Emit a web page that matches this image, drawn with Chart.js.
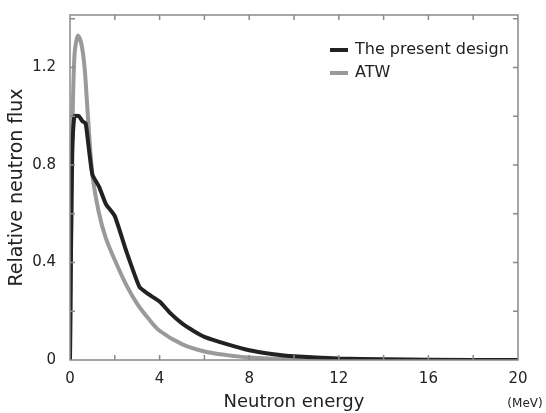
<!DOCTYPE html>
<html>
<head>
<meta charset="utf-8">
<script src="https://cdn.jsdelivr.net/npm/chart.js@4/dist/chart.umd.min.js"></script>
<style>
  html, body { margin: 0; padding: 0; background: #fff; }
  #wrap { position: relative; width: 546px; height: 413px; }
</style>
</head>
<body>
<div id="wrap"><canvas id="chart" width="546" height="413"></canvas></div>
<script>
// energy (MeV) and relative flux
const presentX = [0, 0.05, 0.1, 0.2, 0.4, 0.55, 0.7, 0.85, 1.0, 1.3, 1.6, 2.0, 2.5, 3.1, 3.5, 4.0, 4.5, 5.0, 5.5, 6.0, 7.0, 8.0, 9.0, 10.0, 12.0, 14.0, 16.0, 20.0];
const presentY = [0, 0.5, 0.85, 1.0, 1.0, 0.98, 0.97, 0.86, 0.76, 0.71, 0.64, 0.59, 0.45, 0.30, 0.27, 0.24, 0.19, 0.15, 0.12, 0.095, 0.065, 0.04, 0.025, 0.015, 0.006, 0.003, 0.001, 0];

const atwX = [0, 0.1, 0.2, 0.35, 0.5, 0.65, 0.8, 1.0, 1.3, 1.6, 2.0, 2.5, 3.0, 3.5, 4.0, 5.0, 6.0, 7.0, 8.0, 10.0, 12.0, 20.0];
const atwY = [0, 0.9, 1.25, 1.33, 1.3, 1.2, 1.0, 0.76, 0.6, 0.5, 0.41, 0.31, 0.23, 0.17, 0.12, 0.065, 0.035, 0.02, 0.01, 0.003, 0.001, 0];

const xTickLabels = [0, 4, 8, 12, 16, 20];
const yTickLabels = [0, 0.4, 0.8, 1.2];
const seriesNames = ['The present design', 'ATW'];

const toPoints = (xs, ys) => xs.map((x, i) => ({ x: x, y: ys[i] }));

const FONT = 'DejaVu Sans, Verdana, sans-serif';

// box + inward tick marks on all four sides, legend and unit
const frame = {
  id: 'frame',
  afterDatasetsDraw(chart) {
    const { ctx, chartArea: a, scales } = chart;
    ctx.save();
    ctx.strokeStyle = '#8a8a8a';
    ctx.lineWidth = 1.5;
    ctx.strokeRect(a.left, a.top, a.right - a.left, a.bottom - a.top);
    ctx.beginPath();
    for (let v = 2; v < 20; v += 2) {
      const px = scales.x.getPixelForValue(v);
      ctx.moveTo(px, a.bottom); ctx.lineTo(px, a.bottom - 5);
      ctx.moveTo(px, a.top); ctx.lineTo(px, a.top + 5);
    }
    for (let v = 0.2; v < 1.41; v += 0.2) {
      const py = scales.y.getPixelForValue(v);
      ctx.moveTo(a.left, py); ctx.lineTo(a.left + 5, py);
      ctx.moveTo(a.right, py); ctx.lineTo(a.right - 5, py);
    }
    ctx.stroke();

    // legend
    const colors = ['#222222', '#9a9a9a'];
    ctx.font = '16px ' + FONT;
    ctx.textBaseline = 'middle';
    seriesNames.forEach((name, i) => {
      const y = 50 + i * 23;
      ctx.strokeStyle = colors[i];
      ctx.lineWidth = 4;
      ctx.beginPath();
      ctx.moveTo(330, y); ctx.lineTo(348, y);
      ctx.stroke();
      ctx.fillStyle = '#222';
      ctx.fillText(name, 355, y);
    });

    // unit label
    ctx.font = '12px ' + FONT;
    ctx.fillStyle = '#222';
    ctx.textAlign = 'center';
    ctx.fillText('(MeV)', 525, 404);
    ctx.restore();
  }
};

new Chart(document.getElementById('chart'), {
  type: 'scatter',
  data: {
    datasets: [
      {
        label: seriesNames[0],
        data: toPoints(presentX, presentY),
        showLine: true,
        borderColor: '#222222',
        borderWidth: 4,
        pointRadius: 0,
        tension: 0.15,
        order: 0
      },
      {
        label: seriesNames[1],
        data: toPoints(atwX, atwY),
        showLine: true,
        borderColor: '#9a9a9a',
        borderWidth: 4,
        pointRadius: 0,
        tension: 0.3,
        order: 1
      }
    ]
  },
  options: {
    responsive: false,
    animation: false,
    layout: { padding: { top: 9, right: 28, left: 0, bottom: 0 } },
    plugins: {
      legend: { display: false },
      tooltip: { enabled: false }
    },
    scales: {
      x: {
        type: 'linear',
        min: 0,
        max: 20,
        border: { display: false },
        grid: { display: false },
        ticks: {
          stepSize: 2,
          autoSkip: false,
          maxRotation: 0,
          padding: 2,
          color: '#222',
          font: { family: FONT, size: 15 },
          callback: (v) => xTickLabels.includes(v) ? String(v) : ''
        },
        title: {
          display: true,
          text: 'Neutron energy',
          color: '#222',
          font: { family: FONT, size: 18 },
          padding: { top: 0, bottom: 0 }
        },
        afterFit: (scale) => { scale.height = 53; }
      },
      y: {
        min: 0,
        max: 1.415,
        border: { display: false },
        grid: { display: false },
        ticks: {
          stepSize: 0.2,
          autoSkip: false,
          padding: 6,
          color: '#222',
          font: { family: FONT, size: 15 },
          callback: (v) => {
            const r = Math.round(v * 10) / 10;
            return yTickLabels.includes(r) ? String(r) : '';
          }
        },
        title: {
          display: true,
          text: 'Relative neutron flux',
          color: '#222',
          font: { family: FONT, size: 19 },
          padding: { top: 6, bottom: 0 }
        },
        afterFit: (scale) => { scale.width = 70; }
      }
    }
  },
  plugins: [frame]
});
</script>
</body>
</html>
